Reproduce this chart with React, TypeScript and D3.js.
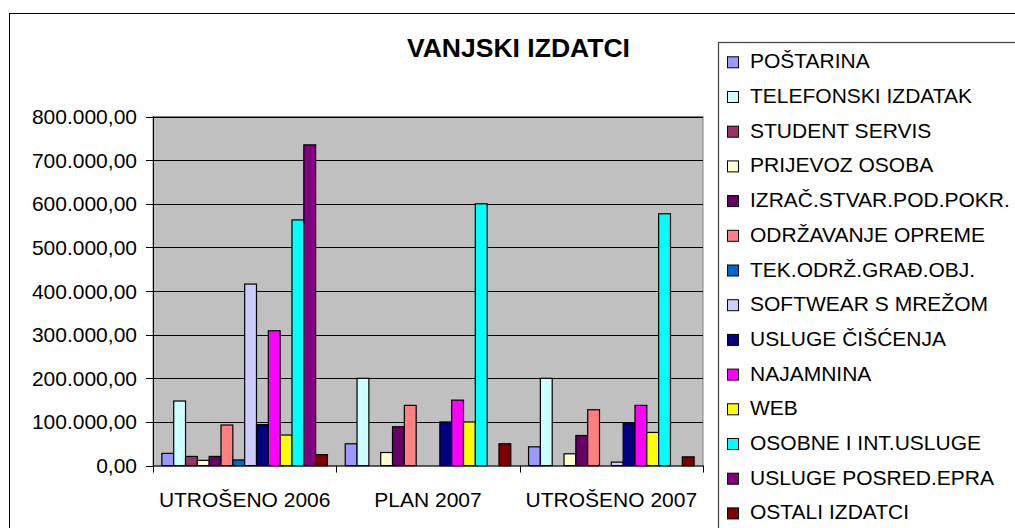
import React from "react";
import * as d3 from "d3";

const categories = ["UTROŠENO 2006", "PLAN 2007", "UTROŠENO 2007"];

const seriesNames = [
  "POŠTARINA",
  "TELEFONSKI IZDATAK",
  "STUDENT SERVIS",
  "PRIJEVOZ OSOBA",
  "IZRAČ.STVAR.POD.POKR.",
  "ODRŽAVANJE OPREME",
  "TEK.ODRŽ.GRAĐ.OBJ.",
  "SOFTWEAR S MREŽOM",
  "USLUGE ČIŠĆENJA",
  "NAJAMNINA",
  "WEB",
  "OSOBNE I INT.USLUGE",
  "USLUGE POSRED.EPRA",
  "OSTALI IZDATCI",
];

const seriesColors = [
  "#9999FF",
  "#CCFFFF",
  "#993366",
  "#FFFFCC",
  "#660066",
  "#FF8080",
  "#0066CC",
  "#CCCCFF",
  "#000080",
  "#FF00FF",
  "#FFFF00",
  "#00FFFF",
  "#800080",
  "#800000",
];

// values per category, in series order
const utroseno2006 = [28000, 148000, 21000, 12000, 21000, 93000, 13000, 416000, 94000, 309000, 70000, 563000, 735000, 25000];
const plan2007 = [50000, 200000, 0, 30000, 89000, 138000, 0, 0, 100000, 150000, 100000, 600000, 0, 50000];
const utroseno2007 = [43000, 200000, 0, 27000, 69000, 128000, 0, 8000, 96000, 138000, 76000, 577000, 0, 20000];

const categoryValues = [utroseno2006, plan2007, utroseno2007];

const yTicks = [0, 100000, 200000, 300000, 400000, 500000, 600000, 700000, 800000];

const title = "VANJSKI IZDATCI";

const locale = d3.formatLocale({ decimal: ",", thousands: ".", grouping: [3], currency: ["", ""] });
const fmt = locale.format(",.2f");

export default function App() {
  const font = "'Liberation Sans', Arial, sans-serif";
  const plotL = 153;
  const plotR = 703;
  const plotT = 116.5;
  const plotB = 465.6;

  const y = d3.scaleLinear().domain([0, 800000]).range([plotB, plotT]);
  const x0 = d3.scaleBand<string>().domain(categories).range([plotL, plotR]).paddingInner(0).paddingOuter(0);
  const x1 = d3
    .scaleBand<string>()
    .domain(seriesNames)
    .range([0, x0.bandwidth()])
    .paddingInner(0)
    .paddingOuter(0.75);

  const legendX = 718;
  const legendTop = 42;
  const legendStep = 34.7;
  const legendBase0 = 68.3;

  return (
    <div style={{ position: "fixed", left: 0, top: 0 }}>
      <svg width={1015} height={528} style={{ display: "block", background: "#fff" }}>
        {/* outer chart border */}
        <rect x={9.5} y={13.5} width={1100} height={600} fill="#fff" stroke="#000" strokeWidth={1} />

        {/* title */}
        <text
          x={518.5}
          y={57}
          textAnchor="middle"
          fontFamily={font}
          fontWeight="bold"
          fontSize={25}
          textLength={223}
          lengthAdjust="spacingAndGlyphs"
          fill="#000"
        >
          {title}
        </text>

        {/* plot area */}
        <rect x={plotL} y={plotT} width={plotR - plotL} height={plotB - plotT} fill="#C0C0C0" stroke="#808080" strokeWidth={1} />

        {/* gridlines */}
        {yTicks.slice(1).map((t) => (
          <line key={"g" + t} x1={plotL} x2={plotR} y1={Math.round(y(t)) + 0.5} y2={Math.round(y(t)) + 0.5} stroke="#000" strokeWidth={1} />
        ))}

        {/* bars */}
        {categories.map((c, ci) =>
          seriesNames.map((s, si) => {
            const v = categoryValues[ci][si];
            if (!v) return null;
            const bx = (x0(c) as number) + (x1(s) as number);
            const by = y(v);
            return (
              <rect
                key={c + s}
                x={bx}
                y={by}
                width={x1.bandwidth()}
                height={plotB - by}
                fill={seriesColors[si]}
                stroke="#000"
                strokeWidth={1.2}
              />
            );
          })
        )}

        {/* axes */}
        <line x1={plotL + 0.5} x2={plotL + 0.5} y1={plotT} y2={plotB} stroke="#000" strokeWidth={1} />
        <line x1={plotL} x2={plotR} y1={plotB + 0.5} y2={plotB + 0.5} stroke="#000" strokeWidth={1} />

        {yTicks.map((t) => (
          <g key={"t" + t}>
            <line x1={146} x2={plotL} y1={Math.round(y(t)) + 0.5} y2={Math.round(y(t)) + 0.5} stroke="#000" strokeWidth={1} />
            <text x={137} y={y(t) + 7.5} textAnchor="end" fontFamily={font} fontSize={21} fill="#000">
              {fmt(t)}
            </text>
          </g>
        ))}

        {[...categories.map((c) => x0(c) as number), plotR].map((xx, i) => (
          <line key={"xt" + i} x1={Math.round(xx) + 0.5} x2={Math.round(xx) + 0.5} y1={plotB} y2={plotB + 7} stroke="#000" strokeWidth={1} />
        ))}

        {categories.map((c) => (
          <text
            key={"xl" + c}
            x={(x0(c) as number) + x0.bandwidth() / 2}
            y={507}
            textAnchor="middle"
            fontFamily={font}
            fontSize={21}
            fill="#000"
          >
            {c}
          </text>
        ))}

        {/* legend */}
        <rect x={legendX + 0.5} y={legendTop + 0.5} width={400} height={600} fill="#fff" stroke="#404040" strokeWidth={1.2} />
        {seriesNames.map((s, i) => {
          const base = legendBase0 + i * legendStep;
          return (
            <g key={"lg" + s}>
              <rect x={727.5} y={base - 11.5} width={11} height={11} fill={seriesColors[i]} stroke="#000" strokeWidth={1} />
              <text x={750} y={base} fontFamily={font} fontSize={21} fill="#000">
                {s}
              </text>
            </g>
          );
        })}
      </svg>
    </div>
  );
}
